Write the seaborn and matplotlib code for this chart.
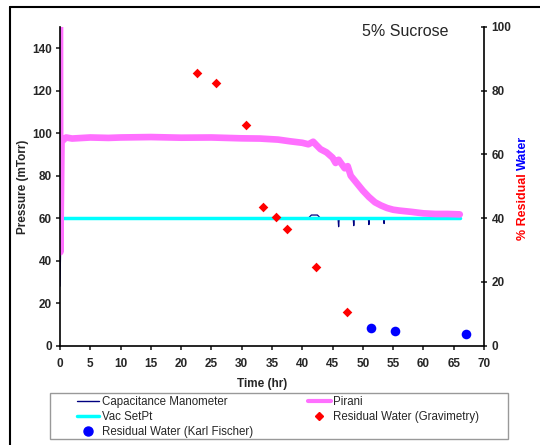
import matplotlib
matplotlib.use("Agg")
import matplotlib.pyplot as plt
from matplotlib.lines import Line2D
from matplotlib.patches import Rectangle
import seaborn as sns

# Pirani gauge (mTorr)
pirani_t = [0, 0.05, 0.25, 1, 2, 5, 8, 10, 15, 20, 25, 30, 33, 36, 38, 40, 41, 41.8, 42.3,
            43, 44, 45, 45.5, 46, 47, 47.5, 48, 49, 50, 50.5, 51, 52, 53, 54, 55, 56,
            58, 60, 62, 64, 66]
pirani_p = [150, 44, 96, 98, 97.5, 98, 97.8, 98, 98.2, 97.9, 98, 97.6, 97.5, 97,
            96.2, 95.5, 94.8, 96, 94.5, 92.5, 91, 88.5, 86, 87.5, 83.5, 84.5, 80, 76.5,
            73, 71.5, 70, 67.5, 66, 64.8, 64, 63.6, 63, 62.3, 62, 62, 61.8]

# Capacitance manometer (mTorr)
cm_t = [0, 0.1, 0.2, 0.3, 20, 41, 41.5, 42.5, 43, 44, 45.9, 46, 46.1, 48.4, 48.5, 48.6,
        50.9, 51, 51.1, 53.4, 53.5, 53.6, 58, 66]
cm_p = [28, 45, 58, 60, 60, 60, 61.5, 61.5, 60, 60, 60, 56, 60, 60, 56.5, 60,
        60, 57, 60, 60, 57.5, 60, 60, 60]

# vacuum set point (mTorr)
sp_t = [0, 66]
sp_p = [60, 60]

# residual water (%)
grav_t = [22.6, 25.8, 30.7, 33.5, 35.7, 37.5, 42.3, 47.4]
grav_w = [85.6, 82.5, 69.2, 43.5, 40.3, 36.5, 24.6, 10.7]
kf_t = [51.3, 55.3, 67.1]
kf_w = [5.6, 4.5, 3.7]

sns.set_style("ticks")
plt.rcParams["font.family"] = ["Liberation Sans", "DejaVu Sans"]

fig = plt.figure(figsize=(5.4, 4.45), dpi=100)
ax = fig.add_axes([60 / 540, 1 - 345.7 / 445, 424 / 540, 318.7 / 445])
ax2 = ax.twinx()

sns.lineplot(x=cm_t, y=cm_p, ax=ax, color="#000080", lw=0.9, sort=False, estimator=None)
sns.lineplot(x=sp_t, y=sp_p, ax=ax, color="#00ffff", lw=2.5, sort=False, estimator=None)
sns.lineplot(x=pirani_t, y=pirani_p, ax=ax, color="#ff70ff", lw=4.8, sort=False, estimator=None)

sns.scatterplot(x=grav_t, y=grav_w, ax=ax2, marker="D", s=24, color="#ff0000", linewidth=0)
sns.scatterplot(x=kf_t, y=kf_w, ax=ax2, marker="o", s=48, color="#0000ff", linewidth=0)

ax.set_xlim(0, 70)
ax.set_ylim(0, 150)
ax2.set_ylim(0, 100)
ax.set_xticks(range(0, 71, 5))
ax.set_yticks(range(0, 141, 20))
ax2.set_yticks(range(0, 101, 20))

for s in ["top", "right"]:
    ax.spines[s].set_visible(False)
for s in ["top", "left", "bottom"]:
    ax2.spines[s].set_visible(False)
for sp in [ax.spines["left"], ax.spines["bottom"], ax2.spines["right"]]:
    sp.set_linewidth(1.2)
    sp.set_color("black")

ax.tick_params(axis="both", direction="out", length=3, width=1.2, labelsize=8.5, pad=3)
ax.tick_params(axis="x", pad=6)
ax2.tick_params(axis="y", direction="inout", length=5, width=1.2, labelsize=8.5, pad=3)
for lab in ax.get_xticklabels() + ax.get_yticklabels() + ax2.get_yticklabels():
    lab.set_fontweight("bold")

ax.set_xlabel("Time (hr)", fontsize=8.5, fontweight="bold")
ax.xaxis.set_label_coords(0.476, -0.1)
ax.set_ylabel("Pressure (mTorr)", fontsize=8.5, fontweight="bold")
ax.yaxis.set_label_coords(-0.074, 0.5)

# right axis label in two colours
fig.text(523 / 540, 1 - 170 / 445, "% Residual ", color="red", rotation=90, fontsize=9,
         fontweight="bold", ha="right", va="center", rotation_mode="anchor")
fig.text(523 / 540, 1 - 170 / 445, "Water", color="blue", rotation=90, fontsize=9,
         fontweight="bold", ha="left", va="center", rotation_mode="anchor")

fig.text(405 / 540, 1 - 32 / 445, "5% Sucrose", fontsize=11.5, ha="center", va="center")

# legend
handles = [
    Line2D([], [], color="#000080", lw=1),
    Line2D([], [], color="#00ffff", lw=2.5),
    Line2D([], [], color="#0000ff", marker="o", ls="none", ms=6.5),
    Line2D([], [], color="#ff70ff", lw=3),
    Line2D([], [], color="#ff0000", marker="D", ls="none", ms=4.5),
]
labels = ["Capacitance Manometer", "Vac SetPt", "Residual Water (Karl Fischer)",
          "Pirani", "Residual Water (Gravimetry)"]
fig.legend(handles, labels, ncol=2, frameon=False, fontsize=8.3, loc="upper left",
           bbox_to_anchor=(77 / 540, 1 - 396 / 445), borderpad=0, borderaxespad=0,
           handlelength=1.95, handletextpad=0.2, labelspacing=0.25, columnspacing=4.8)
fig.add_artist(Rectangle((50 / 540, 1 - 439 / 445), 458 / 540, 46 / 445,
                         transform=fig.transFigure, fill=False, ec="#999999", lw=1))

# outer frame
fig.add_artist(Line2D([10 / 540, 10 / 540], [0, 1 - 7 / 445], transform=fig.transFigure,
                      color="black", lw=1.5))
fig.add_artist(Line2D([10 / 540, 1], [1 - 7 / 445, 1 - 7 / 445], transform=fig.transFigure,
                      color="black", lw=1.5))

fig.savefig("out.png", dpi=100)
